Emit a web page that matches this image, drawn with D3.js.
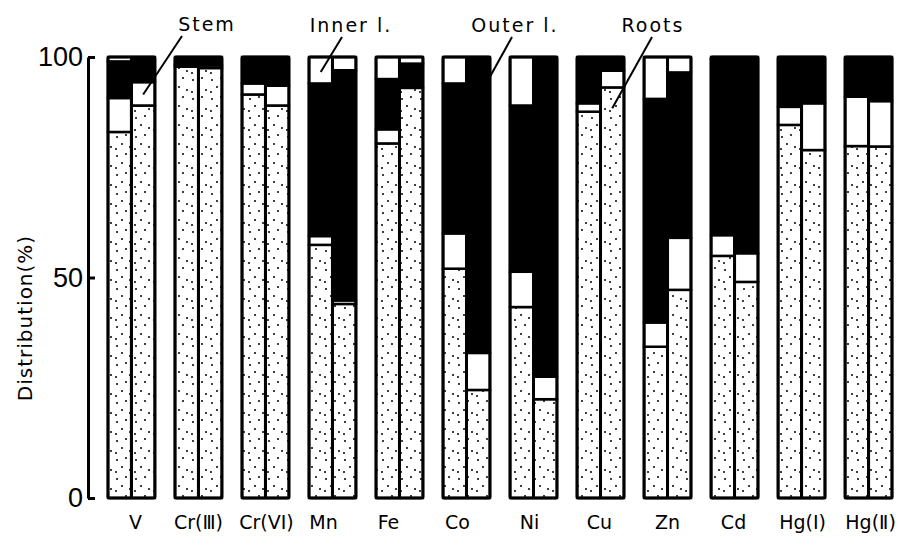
<!DOCTYPE html>
<html>
<head>
<meta charset="utf-8">
<script src="https://cdn.jsdelivr.net/npm/d3@7"></script>
<style>
  body { margin: 0; background: #fff; }
  text { font-family: "DejaVu Sans", sans-serif; fill: #000; }
</style>
</head>
<body>
<div id="chart"></div>
<script>
// Distribution of metals between plant parts (two bars per element)

const elements = ['V', 'Cr(Ⅲ)', 'Cr(VI)', 'Mn', 'Fe', 'Co', 'Ni', 'Cu', 'Zn', 'Cd', 'Hg(Ⅰ)', 'Hg(Ⅱ)']

// values in %, two bars per element, bottom to top
const roots = [83, 89, 97.8, 97.5, 91.5, 89, 57.4, 44, 80.4, 93, 52, 24.5, 43.3, 22.4, 87.6, 93.1, 34.3, 47.2, 54.9, 49, 84.6, 78.9, 79.8, 79.7]
const stem = [7.7, 5.3, 0.5, 0.6, 2.5, 4.5, 2, 0.8, 3.2, 0, 8, 8.4, 8, 5.1, 1.9, 3.8, 5.5, 11.8, 4.7, 6.5, 4.1, 10.6, 11.2, 10.3]
const outer = [8.3, 5.7, 1.7, 1.9, 6, 6.5, 34.6, 52.2, 11.4, 5.5, 34, 67.1, 37.7, 72.5, 10.5, 3.1, 50.7, 37.5, 39.9, 44.5, 11.3, 10.5, 9, 10]
const inner = [1, 0, 0, 0, 0, 0, 6, 3, 5, 1.5, 6, 0, 11, 0, 0, 0, 9.5, 3.5, 0.5, 0, 0, 0, 0, 0]

const yTicks = [0, 50, 100]

const width = 899
const height = 539

const svg = d3.select('#chart')
  .append('svg')
  .attr('width', width)
  .attr('height', height)

// sparse dot pattern for the roots fill
const defs = svg.append('defs')
const pat = defs.append('pattern')
  .attr('id', 'dots')
  .attr('patternUnits', 'userSpaceOnUse')
  .attr('width', 19)
  .attr('height', 19)
pat.append('rect').attr('width', 19).attr('height', 19).attr('fill', '#fff')
const dotPos = [[3, 4], [12, 2], [8, 11], [16, 14], [2, 16]]
pat.selectAll('circle')
  .data(dotPos)
  .enter()
  .append('circle')
  .attr('cx', d => d[0])
  .attr('cy', d => d[1])
  .attr('r', 1)
  .attr('fill', '#000')

const x = d3.scaleBand()
  .domain(elements)
  .range([108, 892])
  .paddingInner(0.3)
  .paddingOuter(0)

const xSub = d3.scaleBand()
  .domain([0, 1])
  .range([0, x.bandwidth()])

const y = d3.scaleLinear()
  .domain([0, 100])
  .range([498, 57])

// build stacked rows
const rows = []
elements.forEach((el, i) => {
  for (let j = 0; j < 2; j++) {
    const k = i * 2 + j
    rows.push({ el: el, bar: j, roots: roots[k], stem: stem[k], outer: outer[k], inner: inner[k] })
  }
})

const keys = ['roots', 'stem', 'outer', 'inner']
const fills = { roots: 'url(#dots)', stem: '#fff', outer: '#000', inner: '#fff' }
const series = d3.stack().keys(keys)(rows)

const layer = svg.append('g')
  .selectAll('g')
  .data(series)
  .enter()
  .append('g')
  .attr('fill', d => fills[d.key])

layer.selectAll('rect')
  .data(d => d.filter(s => s[1] - s[0] > 0))
  .enter()
  .append('rect')
  .attr('x', d => x(d.data.el) + xSub(d.data.bar))
  .attr('y', d => y(d[1]))
  .attr('width', xSub.bandwidth())
  .attr('height', d => y(d[0]) - y(d[1]))
  .attr('stroke', '#000')
  .attr('stroke-width', 2.5)

// bar outlines
svg.append('g')
  .selectAll('rect')
  .data(rows)
  .enter()
  .append('rect')
  .attr('x', d => x(d.el) + xSub(d.bar))
  .attr('y', y(100))
  .attr('width', xSub.bandwidth())
  .attr('height', y(0) - y(100))
  .attr('rx', 1.5)
  .attr('fill', 'none')
  .attr('stroke', '#000')
  .attr('stroke-width', 3)

// y axis, ticks pointing inward
const yAxis = d3.axisLeft(y)
  .tickValues(yTicks)
  .tickSizeInner(-7)
  .tickSizeOuter(0)
  .tickPadding(5)

const gy = svg.append('g')
  .attr('transform', 'translate(88,0)')
  .call(yAxis)
gy.select('.domain').attr('stroke-width', 3)
gy.selectAll('.tick line').attr('stroke-width', 3)
gy.selectAll('.tick text')
  .style('font-family', '"Liberation Sans", sans-serif')
  .style('font-size', '27px')
  .attr('fill', '#000')

svg.append('text')
  .attr('transform', 'translate(32,318) rotate(-90)')
  .attr('text-anchor', 'middle')
  .style('font-size', '20px')
  .style('letter-spacing', '1px')
  .text('Distribution(%)')

// x labels, nudged as in the original lettering
const labelShift = [4, 0, 1, -9, -11, -9, -4, -1, 0, -1, 1, 2]
svg.append('g')
  .selectAll('text')
  .data(elements)
  .enter()
  .append('text')
  .attr('x', (d, i) => x(d) + x.bandwidth() / 2 + labelShift[i])
  .attr('y', 529)
  .attr('text-anchor', 'middle')
  .style('font-size', '19px')
  .text(d => d)

// callouts: label, target element/bar/value, label position
const callouts = [
  { text: 'Stem', el: 'V', bar: 1, pos: 0.5, v: 91.5, tx: 207, ty: 31, lx: 182 },
  { text: 'Inner l.', el: 'Mn', bar: 0, pos: 0.5, v: 96.6, tx: 351, ty: 32, lx: 342 },
  { text: 'Outer l.', el: 'Co', bar: 1, pos: 1, v: 95.5, tx: 515, ty: 32, lx: 512 },
  { text: 'Roots', el: 'Cu', bar: 1, pos: 0.5, v: 88.4, tx: 653, ty: 32, lx: 652 }
]

const ann = svg.append('g')
ann.selectAll('line')
  .data(callouts)
  .enter()
  .append('line')
  .attr('x1', d => d.lx)
  .attr('y1', d => d.ty + 5)
  .attr('x2', d => x(d.el) + xSub(d.bar) + xSub.bandwidth() * d.pos)
  .attr('y2', d => y(d.v))
  .attr('stroke', '#000')
  .attr('stroke-width', 2)

ann.selectAll('text')
  .data(callouts)
  .enter()
  .append('text')
  .attr('x', d => d.tx)
  .attr('y', d => d.ty)
  .attr('text-anchor', 'middle')
  .style('font-size', '19px')
  .style('letter-spacing', '2px')
  .text(d => d.text)
</script>
</body>
</html>
